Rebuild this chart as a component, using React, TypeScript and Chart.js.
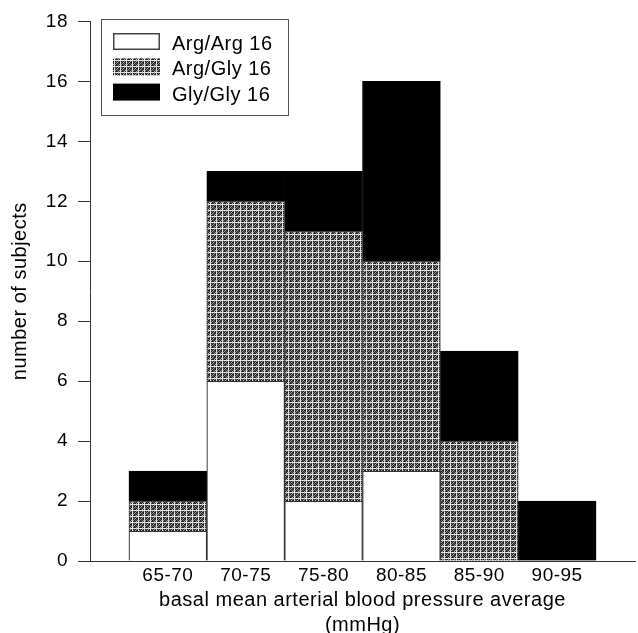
import { useEffect, useRef } from "react";
import { Chart, registerables } from "chart.js";

Chart.register(...registerables);

const categories = ["65-70", "70-75", "75-80", "80-85", "85-90", "90-95"];
const binCenters = [67.5, 72.5, 77.5, 82.5, 87.5, 92.5];
const argArg = [1, 6, 2, 3, 0, 0];
const argGly = [1, 6, 9, 7, 4, 0];
const glyGly = [1, 1, 2, 6, 3, 2];
const seriesLabels = ["Arg/Arg 16", "Arg/Gly 16", "Gly/Gly 16"];
const yTickValues = [0, 2, 4, 6, 8, 10, 12, 14, 16, 18];
const xTitle = ["basal mean arterial blood pressure average", "(mmHg)"];
const yTitle = "number of subjects";

const FONT = '"Liberation Sans", Arial, Helvetica, sans-serif';

function makeStipple(): CanvasPattern | string {
  const grid = [
    [240, 200, 240, 230, 200, 240],
    [200, 40, 90, 30, 160, 60],
    [240, 90, 30, 180, 40, 30],
    [230, 30, 160, 40, 90, 40],
    [200, 160, 40, 90, 30, 180],
    [240, 60, 30, 40, 180, 40],
  ];
  const n = grid.length;
  const c = document.createElement("canvas");
  c.width = n;
  c.height = n;
  const g = c.getContext("2d");
  if (!g) return "#7b7b7b";
  const img = g.createImageData(n, n);
  for (let y = 0; y < n; y++) {
    for (let x = 0; x < n; x++) {
      const v = grid[y][x];
      const i = (y * n + x) * 4;
      img.data[i] = v;
      img.data[i + 1] = v;
      img.data[i + 2] = v;
      img.data[i + 3] = 255;
    }
  }
  g.putImageData(img, 0, 0);
  const p = g.createPattern(c, "repeat");
  return p || "#7b7b7b";
}

const spacingPlugin = {
  id: "letterSpacing",
  beforeUpdate(chart: any) {
    try { chart.ctx.letterSpacing = "0.5px"; } catch (e) {}
  },
  beforeDraw(chart: any) {
    try { chart.ctx.letterSpacing = "0.5px"; } catch (e) {}
  },
};

const legendPlugin = {
  id: "boxLegend",
  afterDraw(chart: any) {
    const ctx = chart.ctx;
    ctx.save();
    ctx.fillStyle = "#fff";
    ctx.fillRect(101.5, 19.5, 187, 96);
    ctx.strokeStyle = "#555";
    ctx.lineWidth = 1;
    ctx.strokeRect(101.5, 19.5, 187, 96);
    chart.data.datasets.forEach((ds: any, i: number) => {
      const y = 33 + i * 25.3;
      ctx.fillStyle = ds.backgroundColor;
      ctx.fillRect(113, y, 47, 17);
      if (i === 0) {
        ctx.strokeStyle = "#444";
        ctx.lineWidth = 1.5;
        ctx.strokeRect(113.75, y + 0.75, 45.5, 15.5);
      }
      ctx.fillStyle = "#000";
      ctx.font = `20px ${FONT}`;
      ctx.textBaseline = "alphabetic";
      ctx.textAlign = "left";
      ctx.fillText(ds.label, 172, y + 17);
    });
    ctx.restore();
  },
};

export default function App() {
  const ref = useRef<HTMLCanvasElement | null>(null);

  useEffect(() => {
    const canvas = ref.current;
    if (!canvas) return;
    const stipple = makeStipple();
    const toPoints = (vals: number[]) => vals.map((v, i) => ({ x: binCenters[i], y: v }));
    const chart = new Chart(canvas, {
      type: "bar",
      data: {
        datasets: [
          {
            label: seriesLabels[0],
            data: toPoints(argArg),
            backgroundColor: "#ffffff",
            borderColor: "#333",
            borderWidth: 1.2,
          },
          {
            label: seriesLabels[1],
            data: toPoints(argGly),
            backgroundColor: stipple as any,
            borderColor: "#444",
            borderWidth: 1,
          },
          {
            label: seriesLabels[2],
            data: toPoints(glyGly),
            backgroundColor: "#000000",
            borderColor: "#000",
            borderWidth: 1,
          },
        ],
      },
      options: {
        animation: false,
        responsive: false,
        devicePixelRatio: 1,
        layout: { padding: { top: 20, right: 3, left: 0, bottom: 0 } },
        datasets: { bar: { barPercentage: 1, categoryPercentage: 1 } },
        plugins: {
          legend: { display: false },
          tooltip: { enabled: false },
        },
        scales: {
          x: {
            type: "linear",
            stacked: true,
            offset: false,
            min: 62.5,
            max: 97.5,
            afterBuildTicks: (scale: any) => {
              scale.ticks = binCenters.map((v) => ({ value: v }));
            },
            afterFit: (scale: any) => {
              scale.height = 77;
            },
            grid: { display: false, drawTicks: false, tickLength: 0 },
            border: { display: true, color: "#333", width: 1 },
            ticks: {
              color: "#000",
              font: { family: FONT, size: 19, lineHeight: 1.2 },
              padding: 3,
              maxRotation: 0,
              autoSkip: false,
              callback: (_v: any, index: number) => categories[index],
            },
            title: {
              display: true,
              text: xTitle,
              color: "#000",
              font: { family: FONT, size: 20, lineHeight: 1.25 },
              padding: { top: 0, bottom: 0 },
            },
          },
          y: {
            type: "linear",
            stacked: true,
            min: 0,
            max: 18,
            afterBuildTicks: (scale: any) => {
              scale.ticks = yTickValues.map((v) => ({ value: v }));
            },
            afterFit: (scale: any) => {
              scale.width = 90;
            },
            grid: {
              display: true,
              drawOnChartArea: false,
              drawTicks: true,
              tickLength: 12,
              color: "#333",
              tickColor: "#333",
            },
            border: { display: true, color: "#333", width: 1 },
            ticks: {
              color: "#000",
              font: { family: FONT, size: 19 },
              padding: 10,
              callback: (v: any) => String(v),
            },
            title: {
              display: true,
              text: yTitle,
              color: "#000",
              font: { family: FONT, size: 20, lineHeight: 1.2 },
              padding: { top: 8.5, bottom: 0 },
            },
          },
        },
      },
      plugins: [spacingPlugin, legendPlugin],
    } as any);
    return () => chart.destroy();
  }, []);

  return (
    <div
      style={{
        position: "fixed",
        left: 0,
        top: 0,
        width: 638,
        height: 633,
        overflow: "hidden",
        background: "#fff",
      }}
    >
      <canvas ref={ref} width={638} height={638} style={{ display: "block", width: 638, height: 638 }} />
    </div>
  );
}
